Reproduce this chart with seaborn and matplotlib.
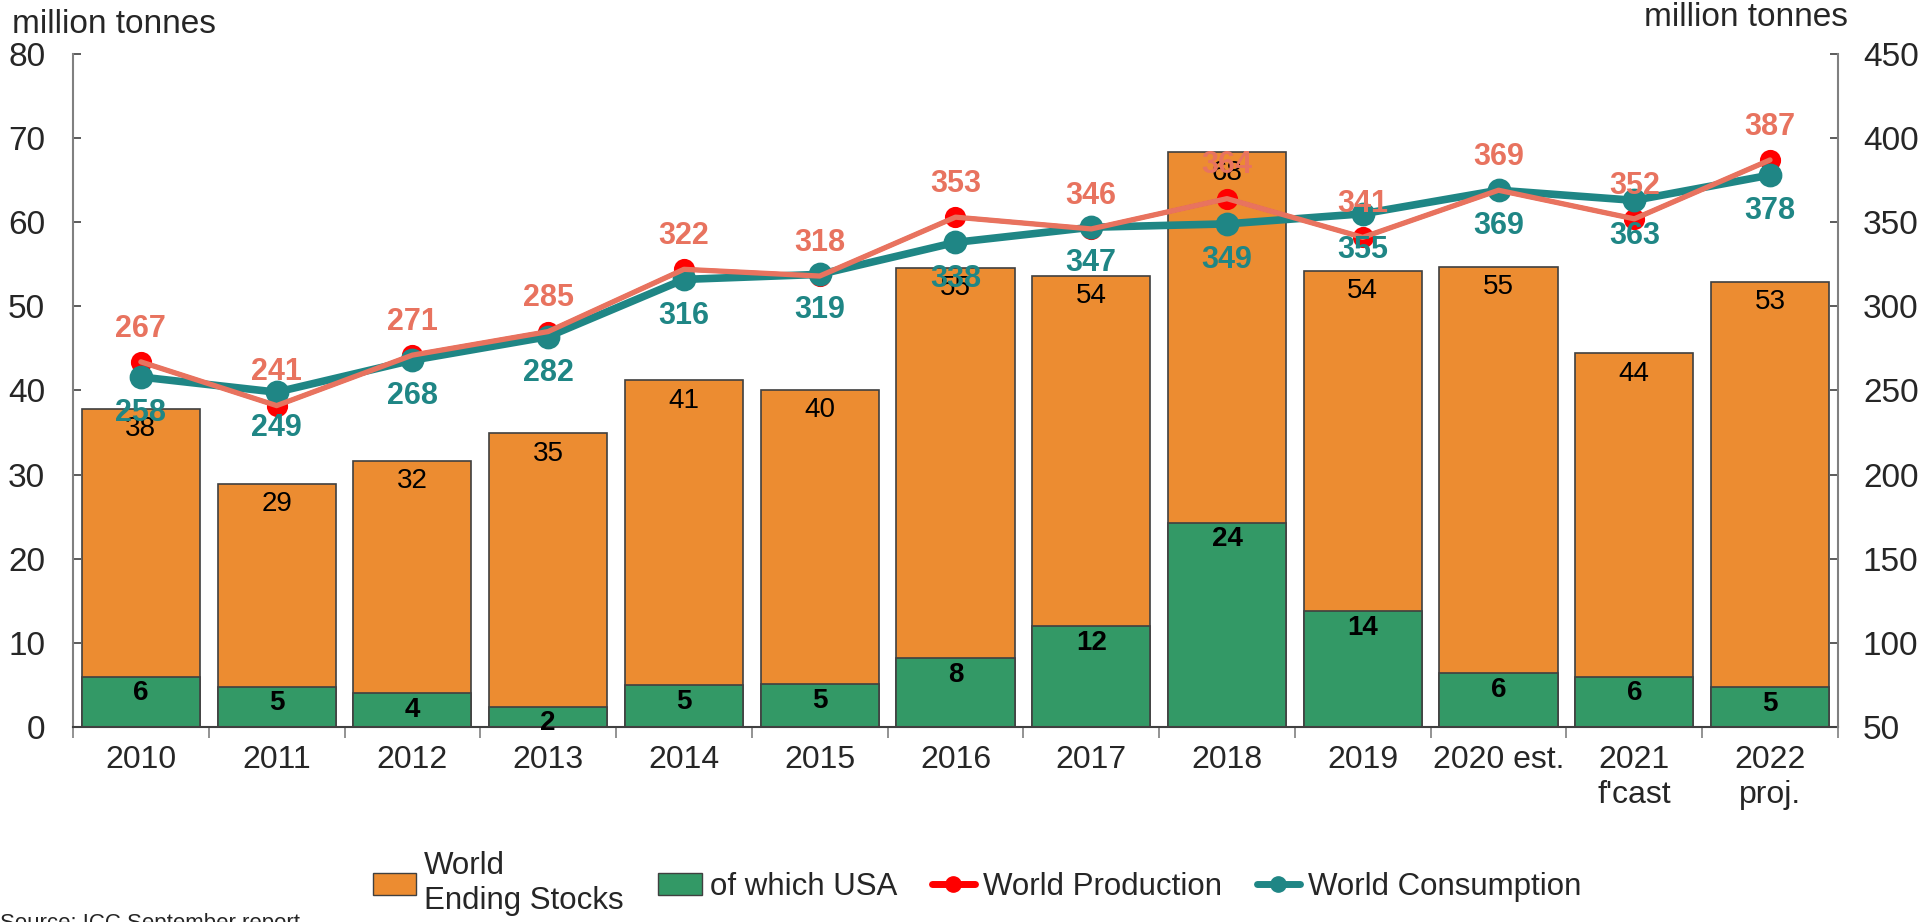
import matplotlib
matplotlib.use("Agg")
import matplotlib.pyplot as plt
from matplotlib.patches import Patch
from matplotlib.lines import Line2D
import seaborn as sns
import pandas as pd

# -------- DATA --------
years = ["2010", "2011", "2012", "2013", "2014", "2015", "2016", "2017",
         "2018", "2019", "2020 est.", "2021\nf'cast", "2022\nproj."]
ending_stocks = [37.8, 28.9, 31.6, 34.9, 41.2, 40.1, 54.6, 53.6, 68.3, 54.2, 54.7, 44.4, 52.9]
usa_stocks = [6.0, 4.8, 4.0, 2.4, 5.0, 5.1, 8.2, 12.0, 24.3, 13.8, 6.4, 6.0, 4.7]
production = [267, 241, 271, 285, 322, 318, 353, 346, 364, 341, 369, 352, 387]
consumption = [258, 249, 268, 282, 316, 319, 338, 347, 349, 355, 369, 363, 378]

df = pd.DataFrame({"year": years, "stocks": ending_stocks, "usa": usa_stocks,
                   "prod": production, "cons": consumption})

ORANGE = "#EC8C31"
GREEN = "#339966"
TEAL = "#1F8685"
RED = "#FF0000"
SALMON = "#E8735F"

# -------- STYLE --------
sns.set_theme(style="white")
plt.rcParams["font.family"] = ["Liberation Sans", "DejaVu Sans"]

fig = plt.figure(figsize=(19.31, 9.22), dpi=100)
ax = fig.add_axes([0.0378, 0.2115, 0.9140, 0.7300])

# -------- BARS --------
sns.barplot(data=df, x="year", y="stocks", color=ORANGE, saturation=1,
            edgecolor="#404040", linewidth=1.2, width=0.87, ax=ax)
sns.barplot(data=df, x="year", y="usa", color=GREEN, saturation=1,
            edgecolor="#404040", linewidth=1.2, width=0.87, ax=ax)

for i, v in enumerate(ending_stocks):
    ax.annotate(f"{v:.0f}", (i, v), xytext=(0, -14.5), textcoords="offset points",
                ha="center", va="center", fontsize=20, color="black")
for i, v in enumerate(usa_stocks):
    ax.annotate(f"{v:.0f}", (i, v), xytext=(0, -12), textcoords="offset points",
                ha="center", va="center", fontsize=20, fontweight="bold", color="black")

ax.set_ylim(0, 80)
ax.set_yticks(range(0, 81, 10))
ax.set_xlim(-0.5, len(years) - 0.5)
ax.set_xlabel("")
ax.set_ylabel("")

# -------- LINES --------
ax2 = ax.twinx()
sns.pointplot(data=df, x="year", y="prod", color=RED, markers="o",
              markersize=13, linewidth=3, errorbar=None, ax=ax2)
sns.pointplot(data=df, x="year", y="cons", color=TEAL, markers="o",
              markersize=13, linewidth=5.5, errorbar=None, ax=ax2)
sns.pointplot(data=df, x="year", y="prod", color=SALMON, markers="",
              linewidth=3.8, errorbar=None, ax=ax2)

for i, v in enumerate(production):
    ax2.annotate(str(v), (i, v), xytext=(0, 24), textcoords="offset points",
                 ha="center", va="center", fontsize=22, fontweight="bold", color=SALMON)
for i, v in enumerate(consumption):
    ax2.annotate(str(v), (i, v), xytext=(0, -26), textcoords="offset points",
                 ha="center", va="center", fontsize=22, fontweight="bold", color=TEAL)

ax2.set_ylim(50, 450)
ax2.set_yticks(range(50, 451, 50))
ax2.set_ylabel("")
ax.set_xlim(-0.5, len(years) - 0.5)

# -------- AXES --------
for a in (ax, ax2):
    for s in a.spines.values():
        s.set_visible(False)
ax.spines["left"].set_visible(True)
ax.spines["left"].set_color("#808080")
ax.spines["left"].set_linewidth(1.5)
ax.spines["bottom"].set_visible(True)
ax.spines["bottom"].set_color("#404040")
ax.spines["bottom"].set_linewidth(1.5)
ax2.spines["right"].set_visible(True)
ax2.spines["right"].set_color("#808080")
ax2.spines["right"].set_linewidth(1.5)

ax.tick_params(axis="y", direction="in", length=6, width=1.2, color="#404040",
               labelsize=24, pad=20, left=True)
ax2.tick_params(axis="y", direction="in", length=6, width=1.2, color="#404040",
                labelsize=24, pad=18, right=True)
ax.set_xticks(range(len(years)))
ax.set_xticklabels(years)
ax.tick_params(axis="x", which="major", length=0, labelsize=23, pad=13)
ax.set_xticks([i - 0.5 for i in range(len(years) + 1)], minor=True)
ax.tick_params(axis="x", which="minor", direction="out", length=8, width=1.2,
               color="#808080", bottom=True)
ax.grid(False)
ax2.grid(False)

fig.text(0.006, 0.973, "million tonnes", fontsize=24, ha="left", va="center")
fig.text(0.957, 0.981, "million tonnes", fontsize=24, ha="right", va="center")
fig.text(0.0, 0.010, "Source: ICC September report", fontsize=16, ha="left", va="top")

# -------- LEGEND --------
handles = [
    Patch(facecolor=ORANGE, edgecolor="#404040"),
    Patch(facecolor=GREEN, edgecolor="#404040"),
    Line2D([], [], color=RED, marker="o", linewidth=5, markersize=11),
    Line2D([], [], color=TEAL, marker="o", linewidth=5, markersize=11),
]
labels = ["World\nEnding Stocks", "of which USA", "World Production", "World Consumption"]
fig.legend(handles, labels, loc="center", bbox_to_anchor=(0.506, 0.042), ncol=4,
           frameon=False, fontsize=22.5, handlelength=1.4, handletextpad=0.25,
           columnspacing=1.1)

fig.savefig("out.png", dpi=100)
